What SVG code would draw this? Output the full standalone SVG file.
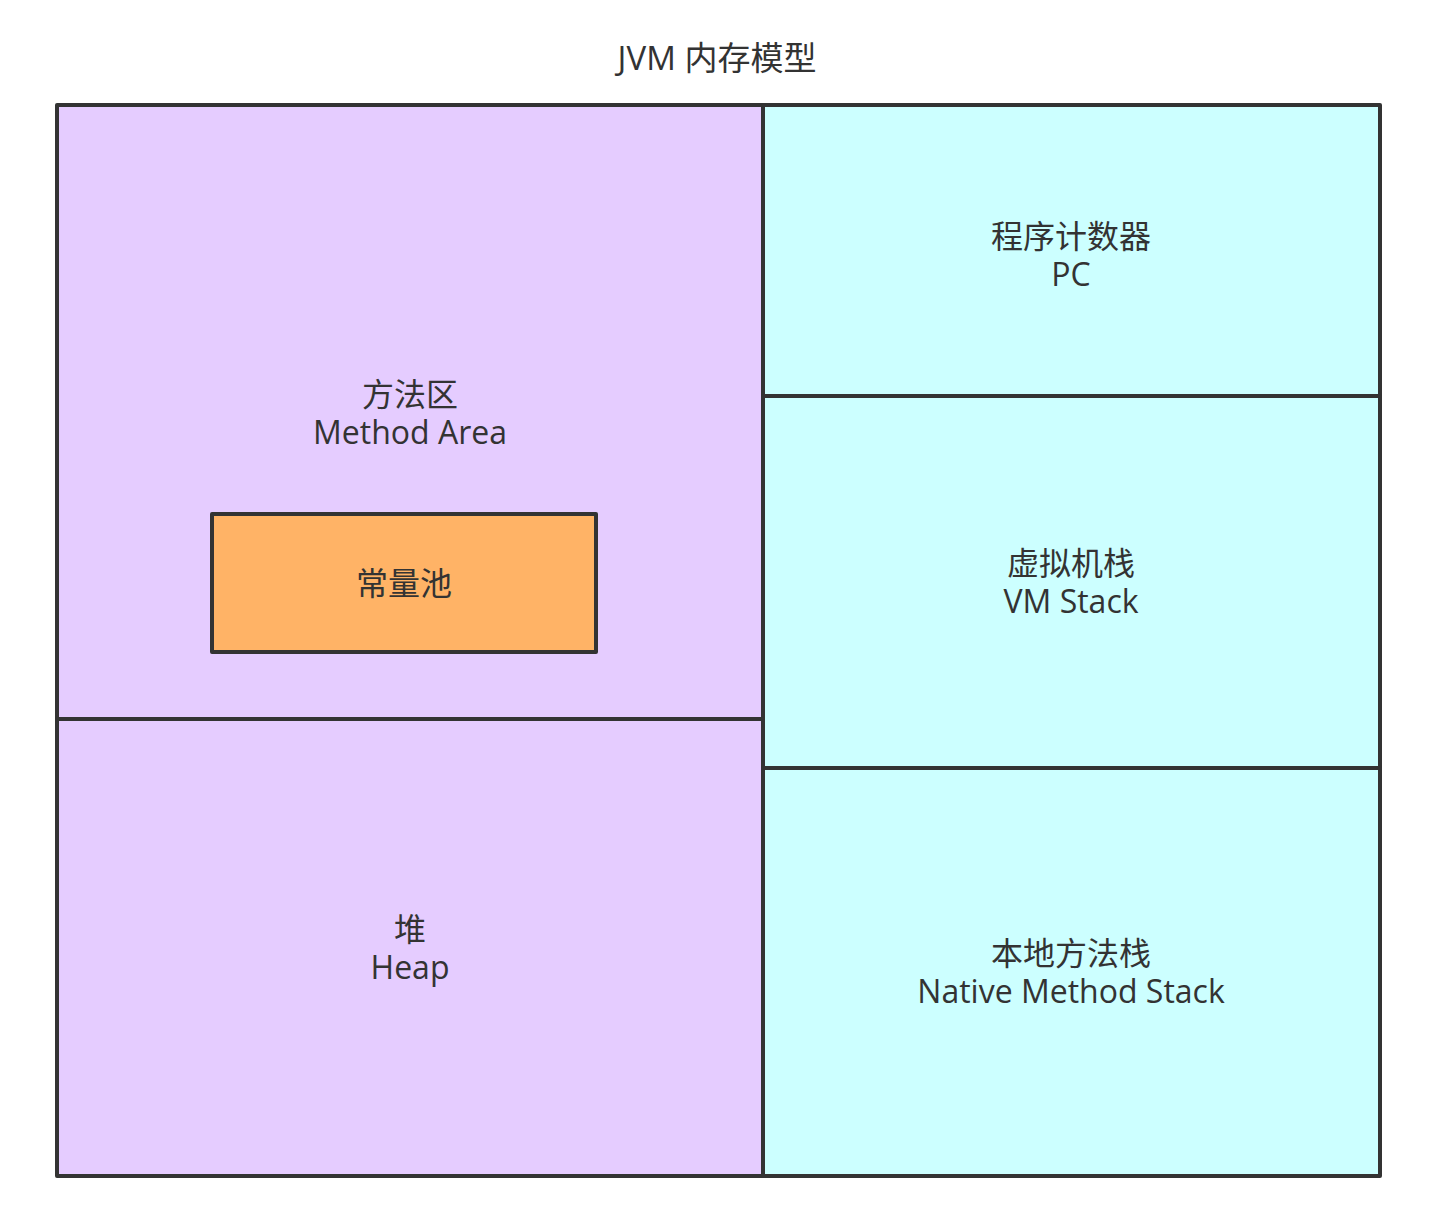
<svg xmlns="http://www.w3.org/2000/svg" width="1429" height="1229" viewBox="0 0 1429 1229">
<style>
.box{stroke:#333333;stroke-width:4;stroke-linejoin:round}
.purple{fill:#E5CCFF}
.cyan{fill:#CCFFFF}
.orange{fill:#FFB366}
text{font-family:"Open Sans","Noto Sans CJK SC",sans-serif;font-size:32px;fill:#333333;text-anchor:middle}
.title{font-size:33px}
</style>
<rect x="0" y="0" width="1429" height="1229" fill="#FFFFFF"/>
<g id="title"><text class="title" x="717" y="70">JVM 内存模型</text></g>
<g id="method-area">
<rect class="box purple" x="57" y="105" width="706" height="614"/>
<text x="410" y="406">方法区</text>
<text x="410" y="444">Method Area</text>
</g>
<g id="heap">
<rect class="box purple" x="57" y="719" width="706" height="457"/>
<text x="410" y="941">堆</text>
<text x="410" y="979">Heap</text>
</g>
<g id="constant-pool">
<rect class="box orange" x="212" y="514" width="384" height="138"/>
<text x="404" y="595">常量池</text>
</g>
<g id="pc">
<rect class="box cyan" x="763" y="105" width="617" height="291"/>
<text x="1071" y="248">程序计数器</text>
<text x="1071" y="286">PC</text>
</g>
<g id="vm-stack">
<rect class="box cyan" x="763" y="396" width="617" height="372"/>
<text x="1071" y="575">虚拟机栈</text>
<text x="1071" y="613">VM Stack</text>
</g>
<g id="native-stack">
<rect class="box cyan" x="763" y="768" width="617" height="408"/>
<text x="1071" y="965">本地方法栈</text>
<text x="1071" y="1003">Native Method Stack</text>
</g>
<g id="connectors"></g>
</svg>
